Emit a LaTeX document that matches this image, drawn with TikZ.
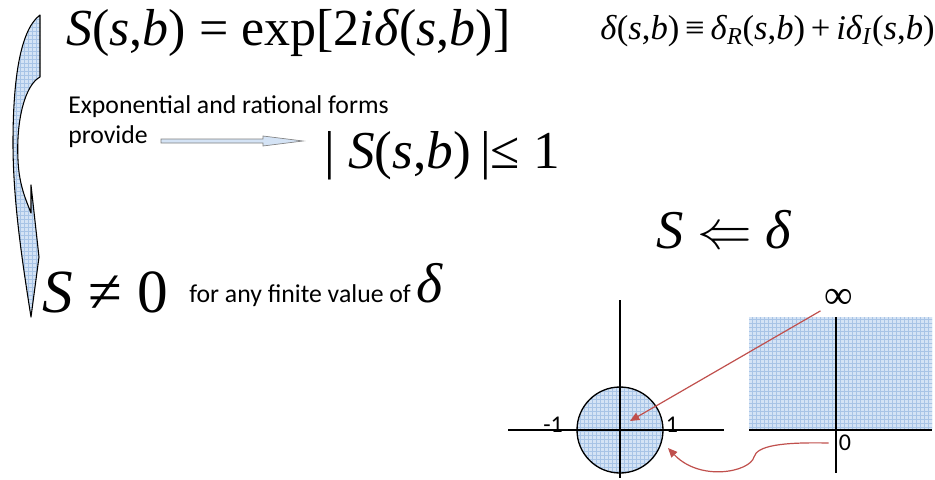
\documentclass[tikz,border=0pt]{standalone}
\usepackage{fix-cm}
\usepackage{fontspec}
\setmainfont{Carlito}
\newfontfamily\tnr{Liberation Serif}
\usetikzlibrary{arrows.meta,positioning,calc,patterns}
\definecolor{arrowred}{RGB}{192,80,77}
\definecolor{gridblue}{RGB}{212,227,245}
\definecolor{gridline}{RGB}{168,196,230}
\tikzset{
    shaded/.style={preaction={fill=gridblue}, pattern=grid, pattern color=gridline},
    eq/.style={inner sep=0pt, anchor=base west, font=\tnr\fontsize{#1}{#1}\selectfont},
    txt/.style={inner sep=0pt, anchor=base west, font=\fontsize{#1}{#1}\selectfont},
    redarrow/.style={draw=arrowred, line width=0.9pt, -{Triangle[length=7pt,width=6pt]}},
    axis/.style={line width=1.3pt}
}
\newcommand{\vi}[1]{\textit{#1}}
\newcommand{\argsb}{(\vi{s},\vi{b})}

\begin{document}
\begin{tikzpicture}[x=0.75pt, y=-0.75pt,
    numlabel/.style={inner sep=0pt, font=\fontsize{18}{18}\selectfont}
]
    \useasboundingbox (0,0) rectangle (935,479);

    % curved arrow on the left
    \draw[shaded, line width=0.8pt, line join=round]
        (40,15) -- (40,77) .. controls (25,85) and (16,120) .. (18,160)
        .. controls (19,185) and (26,200) .. (31,213) -- (31,185) -- (39,257) -- (31,317)
        .. controls (22,260) and (13,200) .. (13,143)
        .. controls (13,80) and (20,30) .. (40,15) -- cycle;

    % formulas and text
    \node[eq=39] (expform) at (66,45) {\vi{S}\argsb{} = exp[2\vi{iδ}\argsb]};
    \node[eq=26] (deltadef) at (600,39) {\vi{δ}\argsb\,≡\,\vi{δ}\textsubscript{\vi{R}}\argsb\,+\,\vi{iδ}\textsubscript{\vi{I}}\argsb};
    \node[txt=19.3] (forms) at (68,113) {Exponential and rational forms};
    \node[txt=19.3] (provide) at (68,143) {provide};
    \node[eq=40] (bound) at (324,168) {| \vi{S}\argsb\,|≤ 1};
    \node[eq=41] (impl) at (656,248) {\vi{S} $\Leftarrow$ \vi{δ}};
    \node[eq=46] (nonzero) at (42,312) {\vi{S} ≠ 0};
    \node[txt=19.3] (finite) at (189,302) {for any finite value of};
    \node[eq=42, right=4pt of finite.base east, anchor=base west] (delta) {\vi{δ}};

    % hollow arrow
    \coordinate (arrtail) at (161,141);
    \coordinate (arrtip) at (303,141);
    \draw[fill=gridblue, draw=gray, line width=0.5pt]
        ($(arrtail)+(0,-2)$) -- ($(arrtip)+(-40,-2)$) -- ($(arrtip)+(-40,-5)$) -- (arrtip)
        -- ($(arrtip)+(-40,5)$) -- ($(arrtip)+(-40,2)$) -- ($(arrtail)+(0,2)$) -- cycle;

    % unit disk
    \node[circle, draw, shaded, line width=1pt, minimum size=64.5pt, inner sep=0pt] (disk) at (620,430) {};
    \draw[axis] (508,430) -- (724,430);
    \draw[axis] (620,300) -- (620,478);
    \node[numlabel] (mone) at (553,425) {-1};
    \node[numlabel] (one) at (672,425) {1};

    % upper half plane
    \fill[shaded] (749,317) rectangle (932,429);
    \draw[axis] (749,430) -- (932,430);
    \draw[axis] (836,317) -- (836,473);
    \node[numlabel] (zero) at (845,443) {0};
    \node[inner sep=0pt, font=\tnr\fontsize{30}{30}\selectfont] (inf) at (839,299) {∞};

    \coordinate (diskin) at (630,421);
    \coordinate (diskedge) at (668,448);
    \draw[redarrow] ($(inf.south west)+(-4,2)$) -- (diskin);
    \draw[redarrow] ($(zero.west)+(-10,0)$) .. controls (780,442) and (757,446) .. (754,457)
        .. controls (750,472) and (700,482) .. (diskedge);
\end{tikzpicture}
\end{document}
